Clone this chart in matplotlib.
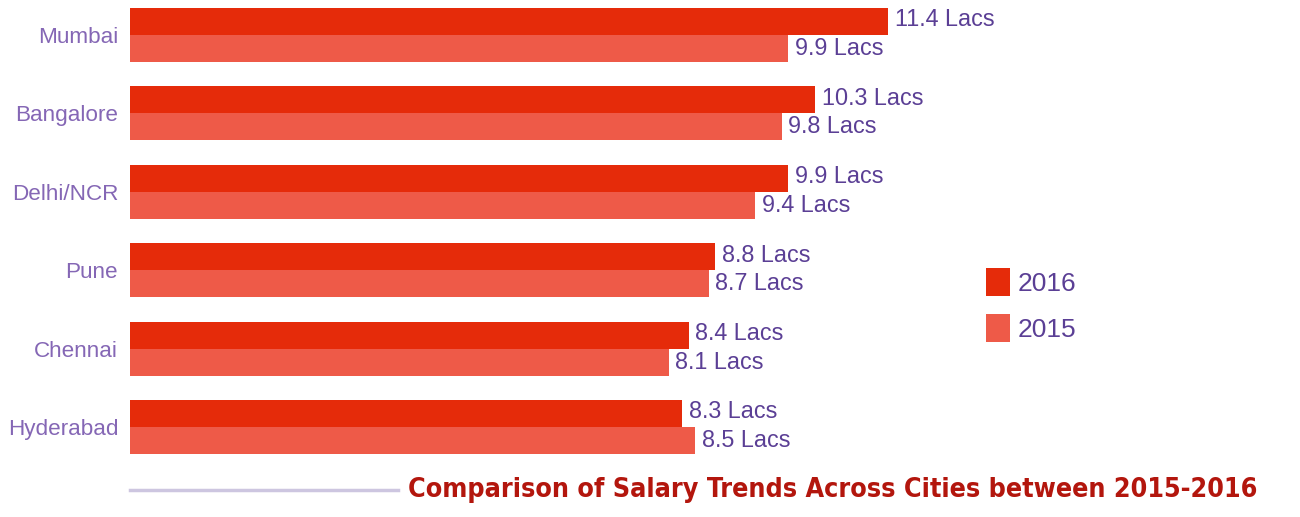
"""Salary trends across cities, 2015 vs 2016, horizontal grouped bars."""

import matplotlib
matplotlib.use("Agg")
import matplotlib.pyplot as plt
from matplotlib.patches import Patch
import numpy as np

cities = ["Mumbai", "Bangalore", "Delhi/NCR", "Pune", "Chennai", "Hyderabad"]
salary_2016 = [11.4, 10.3, 9.9, 8.8, 8.4, 8.3]
salary_2015 = [9.9, 9.8, 9.4, 8.7, 8.1, 8.5]
years = ["2016", "2015"]
title = "Comparison of Salary Trends Across Cities between 2015-2016"

c2016 = "#e52b0a"
c2015 = "#ee5a48"
label_col = "#5b3f95"
city_col = "#8567b5"
title_col = "#b3160d"

plt.rcParams["font.family"] = ["Liberation Sans", "DejaVu Sans"]

W, H = 1300, 517
fig = plt.figure(figsize=(W / 100, H / 100), dpi=100)
ax = fig.add_axes([130 / W, 1 - 470 / H, 1 - 130 / W, 470 / H])

y = np.arange(len(cities))
bh = 0.345
ax.barh(y - bh / 2, salary_2016, height=bh, color=c2016)
ax.barh(y + bh / 2, salary_2015, height=bh, color=c2015)

for yi, v16, v15 in zip(y, salary_2016, salary_2015):
    ax.text(v16 + 0.1, yi - bh / 2 - 0.02, f"{v16} Lacs", ha="left", va="center",
            fontsize=16.8, color=label_col)
    ax.text(v15 + 0.1, yi + bh / 2, f"{v15} Lacs", ha="left", va="center",
            fontsize=16.8, color=label_col)

ax.set_xlim(0, (W - 130) / 66.5)
ax.set_ylim((470 - 35) / 78.4, -35 / 78.4)
ax.set_yticks(y)
ax.set_yticklabels(cities, fontsize=16.2, color=city_col)
ax.tick_params(axis="y", length=0, pad=8.5)
ax.set_xticks([])
for s in ax.spines.values():
    s.set_visible(False)

handles = [Patch(facecolor=c2016, edgecolor="none"), Patch(facecolor=c2015, edgecolor="none")]
fig.legend(handles, years, loc="upper left", bbox_to_anchor=(962 / W, 1 - 244 / H),
           frameon=False, handlelength=0.9, handleheight=1.25,
           handletextpad=0.3, labelspacing=0.7, labelcolor=label_col,
           prop={"size": 19})

fig.add_artist(plt.Line2D([130 / W, 398 / W], [1 - 490 / H, 1 - 490 / H],
                          color="#cdc6e0", lw=2.5))
fig.text(408 / W, 1 - 490 / H, title, ha="left", va="center", fontsize=19.3,
         fontweight="bold", fontstretch="condensed", color=title_col,
         family=["DejaVu Sans"])

fig.savefig("out.png", dpi=100)
